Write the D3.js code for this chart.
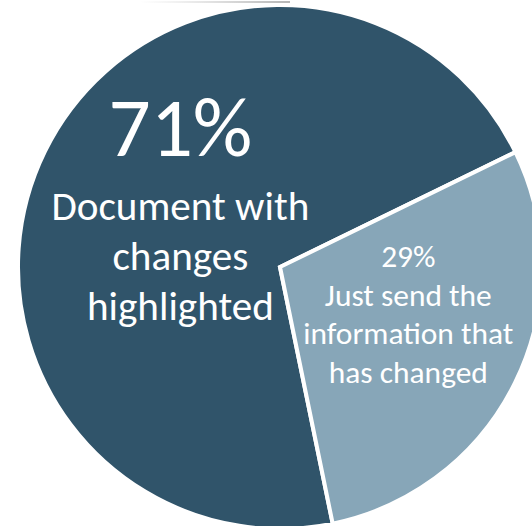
<!DOCTYPE html>
<html>
<head>
<meta charset="utf-8">
<script src="https://cdn.jsdelivr.net/npm/d3@7"></script>
<style>
  html, body { margin: 0; padding: 0; background: #fff; }
  svg { display: block; }
  text { font-family: Carlito, Lato, "Open Sans", sans-serif; fill: #fff; }
</style>
</head>
<body>
<svg id="chart" width="532" height="526"></svg>
<script>
const categories = ["Document with changes highlighted", "Just send the information that has changed"];
const values = [71, 29];
const labelLines = [
  ["Document with", "changes", "highlighted"],
  ["Just send the", "information that", "has changed"]
];
const colors = ["#30546a", "#87a6b8"];

const width = 532;
const height = 526;
const cx = 280;
const cy = 267;
const radius = 262;

const svg = d3.select("#chart");

// faint edge from the slide above
const grad = svg.append("defs").append("linearGradient").attr("id", "edge");
grad.append("stop").attr("offset", "0%").attr("stop-color", "#ccc").attr("stop-opacity", 0);
grad.append("stop").attr("offset", "100%").attr("stop-color", "#b5b5b5");
svg.append("rect")
  .attr("x", 140).attr("y", 1).attr("width", 150).attr("height", 2)
  .attr("fill", "url(#edge)");

const start = 168.4 * Math.PI / 180;
const pie = d3.pie().sort(null).startAngle(start).endAngle(start + 2 * Math.PI);
const arcs = pie(values);

const arc = d3.arc().innerRadius(0).outerRadius(radius);

const g = svg.append("g").attr("transform", `translate(${cx},${cy})`);

g.selectAll("path")
  .data(arcs)
  .join("path")
  .attr("d", arc)
  .attr("fill", (d, i) => colors[i])
  .attr("stroke", "#fff")
  .attr("stroke-width", 4)
  .attr("stroke-linejoin", "miter");

// labels
const labelRadius = [111, 143];
const bigSize = 80, bigGap = 64, lineGap = 50;
const smallSize = 30, smallGap = 38.5;

function fit(sel, target) {
  const w = sel.node().getComputedTextLength();
  const fs = parseFloat(sel.attr("font-size"));
  sel.attr("font-size", fs * target / w);
}

arcs.forEach((d, i) => {
  const la = d3.arc().innerRadius(labelRadius[i]).outerRadius(labelRadius[i]);
  const [x, y] = la.centroid(d);
  const lg = g.append("g").attr("transform", `translate(${x},${y})`);
  const pct = Math.round(d.value) + "%";
  if (i === 0) {
    const t = lg.append("text").attr("text-anchor", "middle").attr("y", -62)
      .attr("font-size", bigSize).text(pct);
    fit(t, 144);
    const lines = labelLines[i].map((s, k) => lg.append("text")
      .attr("text-anchor", "middle").attr("y", 2 + k * lineGap)
      .attr("font-size", 40).text(s));
    fit(lines[0], 258);
    const fs = lines[0].attr("font-size");
    lines.forEach(l => l.attr("font-size", fs));
  } else {
    const all = [pct].concat(labelLines[i]).map((s, k) => lg.append("text")
      .attr("text-anchor", "middle").attr("y", -63 + k * smallGap)
      .attr("font-size", smallSize).attr("fill", "#f2f5f7").text(s));
    fit(all[2], 210);
    const fs = all[2].attr("font-size");
    all.forEach(l => l.attr("font-size", fs));
  }
});
</script>
</body>
</html>
